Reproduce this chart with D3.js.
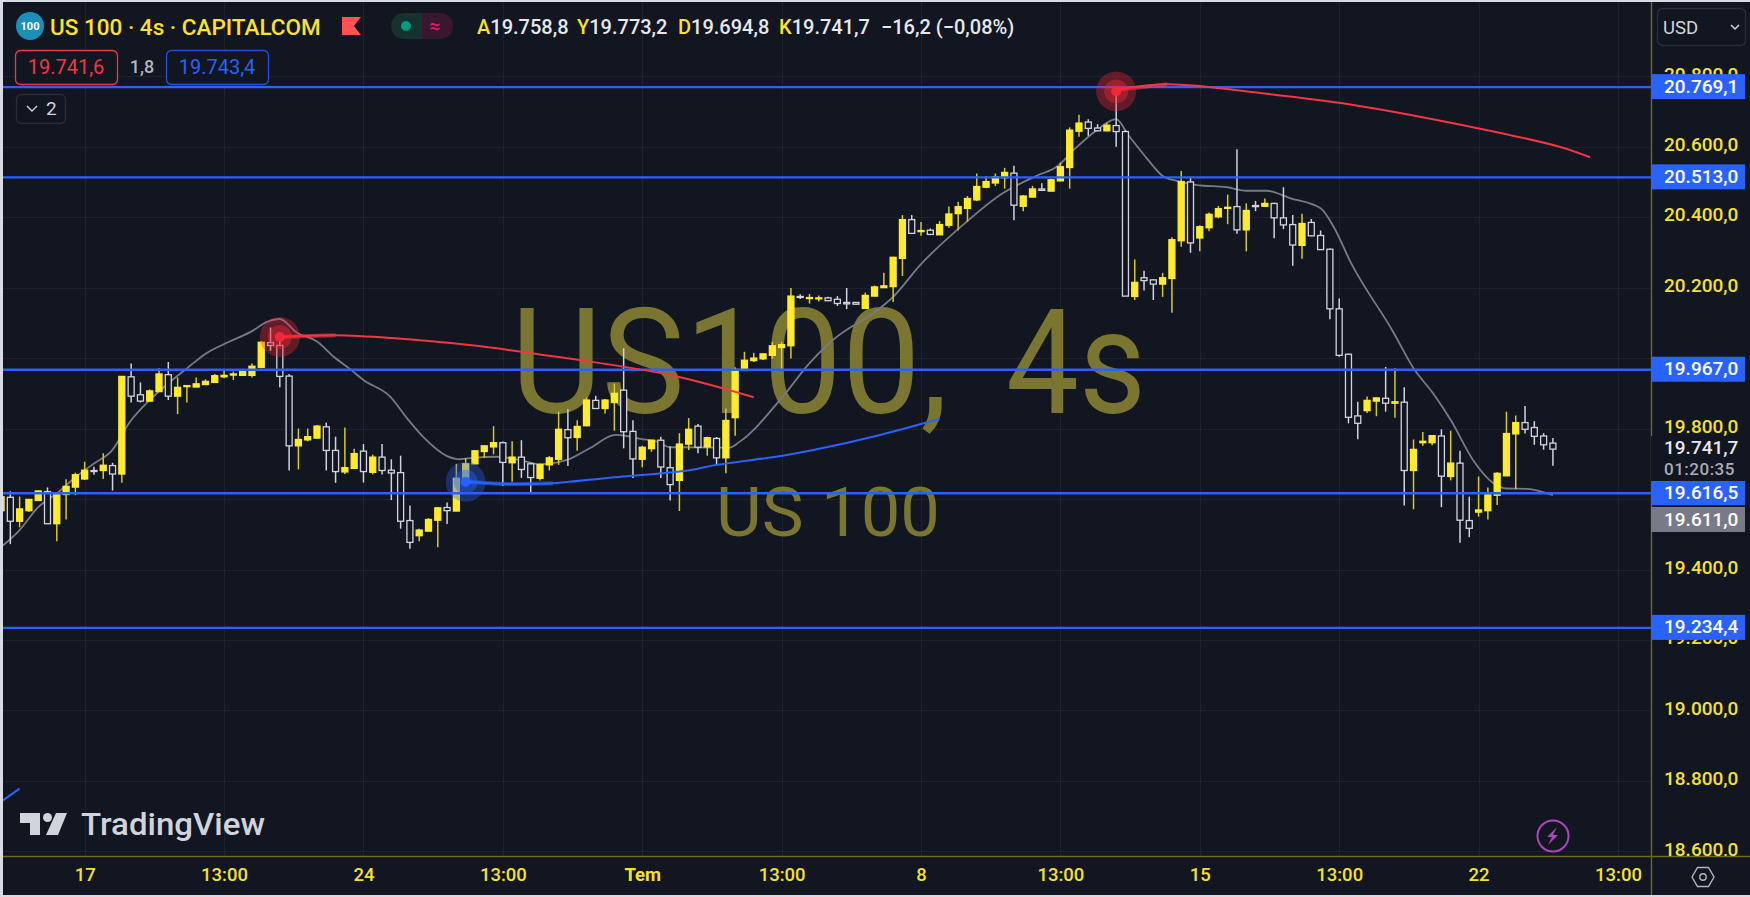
<!DOCTYPE html>
<html>
<head>
<meta charset="utf-8">
<script src="https://cdn.jsdelivr.net/npm/d3@7"></script>
<style>
  html, body { margin: 0; padding: 0; background: #d8dbe3; overflow: hidden; }
  svg { display: block; font-family: Roboto, "Liberation Sans", sans-serif; }
</style>
</head>
<body>
<div id="chart"></div>
<script>
// 4h candles. white = down, yellow = up
const opens = [19567,19605,19537,19567,19596,19621,19530,19613,19634,19657,19681,19681,19695,19671,19947,19896,19878,19905,19953,19892,19919,19918,19925,19931,19947,19952,19951,19951,19974,20044,20036,19949,19751,19768,19773,19805,19738,19677,19687,19736,19676,19719,19682,19675,19539,19496,19509,19540,19576,19566,19657,19700,19735,19748,19760,19703,19719,19700,19659,19697,19713,19797,19775,19808,19880,19857,19874,19909,19792,19713,19743,19767,19689,19653,19756,19807,19748,19772,19717,19831,19965,19993,19998,20008,20030,20035,20175,20170,20169,20171,20167,20158,20158,20141,20176,20200,20203,20283,20393,20359,20363,20350,20377,20410,20425,20449,20485,20497,20512,20525,20431,20457,20480,20474,20503,20541,20644,20670,20653,20645,20660,20643,20175,20228,20222,20210,20226,20333,20500,20341,20370,20401,20425,20430,20364,20433,20431,20439,20398,20379,20320,20385,20348,20309,20140,20011,19836,19851,19878,19886,19872,19875,19681,19760,19760,19779,19664,19702,19539,19563,19567,19611,19666,19785,19817,19803,19779,19758.8];
const highs = [19610,19622,19607,19600,19624,19633,19618,19656,19675,19706,19692,19730,19703,19949,19985,19931,19911,19971,19989,19945,19924,19945,19940,19955,19966,19962,19965,19985,20048,20087,20051,19955,19800,19800,19810,19817,19777,19803,19743,19756,19726,19756,19713,19723,19582,19516,19546,19577,19590,19700,19716,19739,19753,19807,19763,19764,19767,19703,19701,19722,19848,19855,19824,19888,19893,19884,19928,20028,19824,19751,19768,19777,19749,19787,19830,19813,19777,19776,19857,19974,20018,20015,20013,20046,20046,20199,20181,20182,20178,20174,20176,20199,20158,20186,20206,20242,20288,20406,20406,20386,20368,20389,20430,20444,20460,20524,20517,20524,20540,20546,20463,20489,20496,20510,20555,20655,20691,20678,20664,20668,20761,20647,20280,20248,20224,20242,20343,20531,20513,20377,20413,20432,20464,20593,20439,20446,20453,20441,20485,20406,20410,20395,20362,20311,20169,20013,19876,19891,19888,19975,19971,19917,19769,19790,19781,19798,19794,19737,19607,19664,19633,19676,19848,19837,19864,19821,19787,19773.2];
const lows = [19560,19472,19520,19563,19596,19530,19480,19542,19611,19654,19669,19657,19624,19646,19874,19874,19877,19904,19881,19841,19874,19917,19924,19931,19943,19938,19950,19945,19971,20021,19917,19681,19684,19764,19772,19681,19646,19671,19686,19647,19670,19670,19597,19516,19459,19480,19508,19463,19529,19565,19655,19699,19717,19727,19637,19649,19660,19619,19653,19681,19697,19694,19737,19807,19856,19843,19794,19744,19660,19690,19734,19660,19596,19566,19739,19730,19723,19696,19673,19780,19965,19989,19995,19998,19968,19999,20168,20155,20161,20162,20148,20139,20152,20140,20175,20199,20159,20233,20353,20347,20350,20349,20370,20363,20387,20446,20482,20488,20481,20391,20417,20456,20476,20473,20502,20481,20628,20631,20644,20644,20600,20176,20165,20192,20165,20174,20129,20316,20299,20303,20360,20397,20380,20353,20303,20417,20430,20340,20366,20262,20282,20346,20307,20110,20004,19815,19770,19844,19835,19848,19831,19582,19571,19751,19753,19577,19653,19476,19492,19550,19542,19583,19665,19628,19786,19754,19740,19694.8];
const closes = [19607,19537,19572,19599,19623,19530,19616,19636,19669,19682,19680,19696,19671,19948,19892,19878,19907,19955,19892,19917,19922,19927,19934,19950,19951,19955,19964,19977,20045,20036,19948,19751,19769,19777,19807,19738,19678,19689,19729,19678,19719,19681,19674,19537,19477,19512,19542,19575,19567,19659,19700,19737,19751,19760,19704,19719,19684,19661,19698,19717,19798,19774,19806,19881,19857,19881,19900,19791,19714,19747,19767,19691,19641,19756,19798,19747,19774,19717,19823,19968,19994,20000,20012,20035,20038,20176,20173,20172,20171,20163,20155,20154,20153,20178,20202,20205,20286,20393,20354,20362,20351,20379,20409,20430,20453,20487,20501,20514,20527,20434,20460,20480,20476,20506,20543,20647,20667,20652,20645,20661,20643,20176,20215,20220,20210,20228,20336,20501,20327,20373,20408,20424,20428,20364,20419,20430,20439,20398,20378,20321,20382,20347,20308,20140,20008,19832,19815,19880,19887,19872,19876,19681,19741,19764,19780,19665,19702,19540,19517,19569,19612,19673,19786,19817,19798,19778,19754,19741.7];

// moving average, knots only
const maIdx = [0.2,2,4,6,8.1,10,11.9,13.9,16,18.2,20,22.1,24.6,27.1,28.6,30,31.8,34,35.8,37.6,39,41.9,43.7,45.4,48,49.4,50.8,53.3,55.8,58,60.9,63.4,66.1,67.3,68.8,70.6,72,78.4,79.5,84.1,87,89.5,94.6,96,98.9,103.9,107.5,111.4,113.6,115.6,117.9,120,121.3,123.3,125,126.5,128.7,131.9,134,136.2,138.7,142,143.4,145.2,149.8,152,154.1,156.1,158.4,160.6,162,164.2,167];
const maVal = [19468,19512,19577,19616,19664,19701,19737,19820,19881,19933,19971,20014,20047,20078,20103,20111,20073,20047,20004,19968,19938,19890,19829,19777,19722,19713,19717,19720,19711,19699,19711,19745,19782,19779,19771,19763,19747,19746,19763,19890,19986,20051,20142,20174,20264,20387,20463,20517,20543,20595,20647,20678,20633,20567,20517,20503,20491,20485,20475,20475,20454,20425,20373,20274,20075,19971,19900,19820,19711,19645,19630,19629,19611];

// anchored arcs
const redAIdx = [30,36,42,50.4,60,72,81];
const redAVal = [20060,20065,20057,20037,20003,19952,19889];
const redBIdx = [120,125.5,136.2,145.2,156,167.7,171];
const redBVal = [20761,20777,20750,20720,20668,20600,20570];
const blueAIdx = [50,54.4,59.4,65.2,74.1,77,84.1,87.4,94.6,101];
const blueAVal = [19649,19643,19645,19660,19682,19697,19723,19739,19782,19828];
const blueBIdx = [0.2,2];
const blueBVal = [18745,18778];

const hLevels = [20769.1, 20513.0, 19967.0, 19616.5, 19234.4];
const priceTicks = [18600,18800,19000,19200,19400,19600,19800,20000,20200,20400,20600,20800];
const visibleTicks = [18600,18800,19000,19200,19400,19800,20200,20400,20600,20800];
const timeIdx = [9,24,39,54,69,84,99,114,129,144,159,174];
const timeLabels = ['17','13:00','24','13:00','Tem','13:00','8','13:00','15','13:00','22','13:00'];

const W = 1750, H = 897;
const left = 3, top_ = 2, plotR = 1651, plotB = 856, frameB = 895;
const bg = '#121620', yellow = '#ffeb2e', yellowWick = '#d8c92a', white = '#d1d4dc';
const blue = '#2962ff', red = '#f23645', axisCol = '#6e6a22', grid = '#1e222d';

const x = d3.scaleLinear().domain([0, 15]).range([1.04, 140.43]);
const y = d3.scaleLinear().domain([20600, 19200]).range([146.7, 640]);

const tr = d3.formatLocale({ decimal: ',', thousands: '.', grouping: [3], currency: ['', ''] });
const fmt = tr.format(',.1f');

const svg = d3.select('#chart').append('svg').attr('width', W).attr('height', H);
const defs = svg.append('defs');
defs.append('clipPath').attr('id', 'plot').append('rect')
  .attr('x', left).attr('y', top_).attr('width', plotR - left).attr('height', plotB - top_);
defs.append('clipPath').attr('id', 'yaxis').append('rect')
  .attr('x', plotR).attr('y', top_).attr('width', W - plotR).attr('height', plotB - top_);

svg.append('rect').attr('x', left).attr('y', top_).attr('width', W - left).attr('height', frameB - top_).attr('fill', bg);

const plot = svg.append('g').attr('clip-path', 'url(#plot)');

// grid
plot.append('g').selectAll('line').data(priceTicks).join('line')
  .attr('x1', left).attr('x2', plotR).attr('y1', d => Math.round(y(d)) + .5).attr('y2', d => Math.round(y(d)) + .5)
  .attr('stroke', grid);
plot.append('g').selectAll('line').data(timeIdx).join('line')
  .attr('y1', top_).attr('y2', plotB).attr('x1', d => Math.round(x(d)) + .5).attr('x2', d => Math.round(x(d)) + .5)
  .attr('stroke', grid);

// watermark, the comma gap is wider than Roboto's so it is two pieces
const wm = '#7a7530';
plot.append('text').attr('x', 511).attr('y', 413).attr('font-size', 146)
  .attr('textLength', 437).attr('lengthAdjust', 'spacingAndGlyphs')
  .attr('fill', wm).text('US100,');
plot.append('text').attr('x', 1006).attr('y', 413).attr('font-size', 146)
  .attr('textLength', 140).attr('lengthAdjust', 'spacingAndGlyphs')
  .attr('fill', wm).text('4s');
plot.append('text').attr('x', 716).attr('y', 536).attr('font-size', 68)
  .attr('textLength', 224).attr('lengthAdjust', 'spacingAndGlyphs')
  .attr('fill', wm).text('US 100');

// moving average goes under the candles
const lineGen = d3.line().x(d => x(d[0])).y(d => y(d[1]));
plot.append('path').datum(d3.zip(maIdx, maVal))
  .attr('d', lineGen.curve(d3.curveMonotoneX))
  .attr('fill', 'none').attr('stroke', '#787b86').attr('stroke-width', 1.8);

// candles
const candles = d3.range(opens.length).map(i => ({ i, o: opens[i], h: highs[i], l: lows[i], c: closes[i] }));
const bodyW = 6;
const cg = plot.append('g');
cg.selectAll('line').data(candles).join('line')
  .attr('x1', d => x(d.i)).attr('x2', d => x(d.i))
  .attr('y1', d => y(d.h)).attr('y2', d => y(d.l))
  .attr('stroke', d => d.c >= d.o ? yellowWick : white).attr('stroke-width', 1.5);
cg.selectAll('rect').data(candles).join('rect')
  .attr('x', d => x(d.i) - bodyW / 2).attr('width', bodyW)
  .attr('y', d => y(Math.max(d.o, d.c)))
  .attr('height', d => Math.max(1, Math.abs(y(d.o) - y(d.c))))
  .attr('fill', d => d.c >= d.o ? yellow : bg)
  .attr('stroke', d => d.c >= d.o ? yellow : white).attr('stroke-width', 1.3);

// level lines
plot.append('g').selectAll('line').data(hLevels).join('line')
  .attr('x1', left).attr('x2', plotR).attr('y1', d => y(d)).attr('y2', d => y(d))
  .attr('stroke', blue).attr('stroke-width', 2.4);

// arcs and their glow markers, the start of each arc is fatter
const smooth = d3.line().x(d => x(d[0])).y(d => y(d[1])).curve(d3.curveCatmullRom);
function arc(ix, vals, col, w, fat) {
  const pts = d3.zip(ix, vals);
  plot.append('path').datum(pts).attr('d', smooth)
    .attr('fill', 'none').attr('stroke', col).attr('stroke-width', w);
  if (fat) {
    plot.append('path').datum(pts.slice(0, fat)).attr('d', smooth)
      .attr('fill', 'none').attr('stroke', col).attr('stroke-width', w + 2).attr('opacity', .6);
  }
}
arc(redAIdx, redAVal, red, 2, 2);
arc(redBIdx, redBVal, red, 2, 2);
arc(blueAIdx, blueAVal, blue, 2, 3);
arc(blueBIdx, blueBVal, blue, 2, 0);

function glow(i, v, col) {
  const gx = x(i), gy = y(v);
  [[20, .35], [12, .4], [5, .95]].forEach(c => {
    plot.append('circle').attr('cx', gx).attr('cy', gy).attr('r', c[0]).attr('fill', col).attr('opacity', c[1]);
  });
}
glow(redAIdx[0], redAVal[0], '#f7273a');
glow(redBIdx[0], 20757, '#f7273a');
glow(blueAIdx[0], blueAVal[0], blue);

// axes frame
svg.append('line').attr('x1', left).attr('x2', W).attr('y1', plotB + .5).attr('y2', plotB + .5).attr('stroke', axisCol).attr('stroke-width', 1.4);
svg.append('line').attr('x1', plotR + .5).attr('x2', plotR + .5).attr('y1', top_).attr('y2', frameB).attr('stroke', axisCol).attr('stroke-width', 1.4);

// time axis
const xAxis = svg.append('g').attr('transform', `translate(0,${plotB})`)
  .call(d3.axisBottom(x).tickValues(timeIdx).tickSize(0).tickPadding(12).tickFormat((d, i) => timeLabels[i]));
xAxis.select('.domain').remove();
xAxis.selectAll('text').attr('font-size', 18.5).attr('font-family', 'Roboto')
  .attr('fill', '#f5e12e').attr('font-weight', (d, i) => timeLabels[i] === 'Tem' ? 700 : 500);

// price axis
const yAxisG = svg.append('g').attr('clip-path', 'url(#yaxis)').append('g').attr('transform', `translate(${plotR},0)`)
  .call(d3.axisRight(y).tickValues(visibleTicks).tickSize(0).tickPadding(13).tickFormat(fmt));
yAxisG.select('.domain').remove();
yAxisG.selectAll('text').attr('font-size', 19).attr('font-family', 'Roboto').attr('font-weight', 500)
  .attr('fill', '#f5e12e').attr('dy', '.2em');

// price labels
const labelH = 25, labelW = 94;
const labels = svg.append('g');
labels.selectAll('rect').data(hLevels).join('rect')
  .attr('x', plotR).attr('width', labelW).attr('height', labelH).attr('y', d => y(d) - labelH / 2 - .5).attr('fill', blue);
labels.selectAll('text').data(hLevels).join('text')
  .attr('x', plotR + 13).attr('y', d => y(d) + 5.5).attr('font-size', 19).attr('font-weight', 500)
  .attr('fill', '#fff').text(fmt);

// live price + countdown, the gray MA tag sits under the blue one
const lastClose = closes[closes.length - 1];
const lastMa = 19611.0;
svg.append('rect').attr('x', plotR).attr('y', 436).attr('width', W - plotR).attr('height', 45).attr('fill', bg);
svg.append('text').attr('x', plotR + 13).attr('y', 454).attr('font-size', 19).attr('font-weight', 500).attr('fill', '#e6e8ee').text(fmt(lastClose));
svg.append('text').attr('x', plotR + 13).attr('y', 475).attr('font-size', 17).attr('font-weight', 500).attr('fill', '#a9acb5').attr('letter-spacing', .5).text('01:20:35');
svg.append('rect').attr('x', plotR).attr('y', 507).attr('width', labelW).attr('height', labelH).attr('fill', '#787b86');
svg.append('text').attr('x', plotR + 13).attr('y', 526).attr('font-size', 19).attr('font-weight', 500).attr('fill', '#fff').text(fmt(lastMa));

// header
const head = svg.append('g');
head.append('circle').attr('cx', 30).attr('cy', 26).attr('r', 14).attr('fill', '#1a8fb8');
head.append('text').attr('x', 30).attr('y', 30).attr('text-anchor', 'middle').attr('font-size', 11).attr('font-weight', 700).attr('fill', '#fff').text('100');
head.append('text').attr('x', 50).attr('y', 35).attr('font-size', 22.5).attr('font-weight', 500).attr('fill', '#fbe22c').text('US 100 · 4s · CAPITALCOM');
head.append('path').attr('d', 'M342 17h19l-7 9 7 9h-19z').attr('fill', '#ff5252');
head.append('path').attr('d', 'M404 13a13 13 0 0 0 0 26h18v-26z').attr('fill', '#15322f');
head.append('path').attr('d', 'M422 13h18a13 13 0 0 1 0 26h-18z').attr('fill', '#3a1730');
head.append('circle').attr('cx', 406).attr('cy', 26).attr('r', 5).attr('fill', '#089981');
head.append('text').attr('x', 435).attr('y', 33).attr('text-anchor', 'middle').attr('font-size', 20).attr('fill', '#e91e63').text('≈');

const ohlc = [['A', '19.758,8'], ['Y', '19.773,2'], ['D', '19.694,8'], ['K', '19.741,7']];
const ohlcX = [477, 577, 678, 779];
ohlc.forEach((d, i) => {
  const t = head.append('text').attr('x', ohlcX[i]).attr('y', 34).attr('font-size', 20).attr('font-weight', 500);
  t.append('tspan').attr('fill', '#fbe22c').text(d[0]);
  t.append('tspan').attr('fill', '#e6e8ee').text(d[1]);
});
head.append('text').attr('x', 881).attr('y', 34).attr('font-size', 20).attr('font-weight', 500).attr('fill', '#e6e8ee').text('−16,2 (−0,08%)');

function box(bx, by, bw, bh, col) {
  return head.append('rect').attr('x', bx + .5).attr('y', by + .5).attr('width', bw).attr('height', bh)
    .attr('rx', 5).attr('fill', bg).attr('stroke', col).attr('stroke-width', 1.3);
}
box(15, 50, 102, 34, red);
head.append('text').attr('x', 66).attr('y', 74).attr('text-anchor', 'middle').attr('font-size', 20).attr('fill', '#f23645').text('19.741,6');
head.append('text').attr('x', 142).attr('y', 73).attr('text-anchor', 'middle').attr('font-size', 18).attr('font-weight', 500).attr('fill', '#b2b5be').text('1,8');
box(166, 50, 102, 34, '#2350e0');
head.append('text').attr('x', 217).attr('y', 74).attr('text-anchor', 'middle').attr('font-size', 20).attr('fill', '#2962ff').text('19.743,4');

box(16, 94, 49, 29, '#2a2e39');
head.append('path').attr('d', 'M27 106l5 5 5-5').attr('fill', 'none').attr('stroke', '#d1d4dc').attr('stroke-width', 1.4);
head.append('text').attr('x', 46).attr('y', 115).attr('font-size', 19).attr('fill', '#d1d4dc').text('2');

// USD box
box(1657, 8, 88, 37, '#2a2e39');
head.append('text').attr('x', 1663).attr('y', 34).attr('font-size', 18.5).attr('fill', '#d1d4dc').text('USD');
head.append('path').attr('d', 'M1731 25l4 4 4-4').attr('fill', 'none').attr('stroke', '#d1d4dc').attr('stroke-width', 1.5);

// logo
const logo = svg.append('g').attr('fill', '#d1d4dc');
logo.append('path').attr('d', 'M20 813h20v22h-10v-12h-10z');
logo.append('circle').attr('cx', 47.5).attr('cy', 817.5).attr('r', 4.5);
logo.append('path').attr('d', 'M56 813h11l-9 22h-12z');
logo.append('text').attr('x', 81).attr('y', 835).attr('font-size', 31).attr('font-weight', 500)
  .attr('textLength', 184).attr('lengthAdjust', 'spacingAndGlyphs').text('TradingView');

// lightning + settings
svg.append('circle').attr('cx', 1553).attr('cy', 836).attr('r', 15.5).attr('fill', 'none').attr('stroke', '#ab47bc').attr('stroke-width', 2);
svg.append('path').attr('d', 'M1557 827l-10 10h5l-4 8 10-10h-5z').attr('fill', '#ab47bc');
svg.append('path').attr('d', 'M1692 877l5.5-9.5h11l5.5 9.5-5.5 9.5h-11z').attr('fill', 'none').attr('stroke', '#b2b5be').attr('stroke-width', 1.4);
svg.append('circle').attr('cx', 1703).attr('cy', 877).attr('r', 3.2).attr('fill', 'none').attr('stroke', '#b2b5be').attr('stroke-width', 1.4);
</script>
</body>
</html>
